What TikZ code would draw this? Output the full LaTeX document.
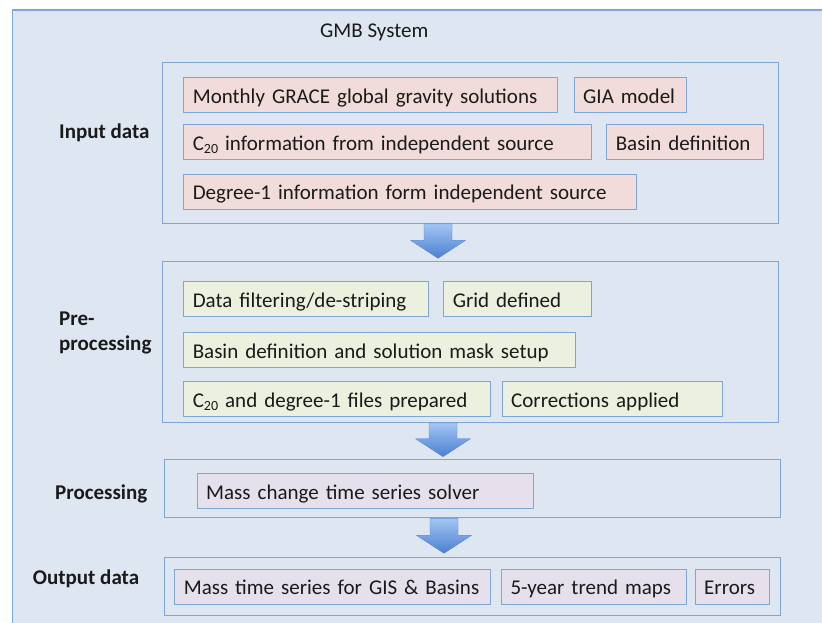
\documentclass[tikz,border=0pt]{standalone}
\usepackage{fontspec}
\setmainfont{Carlito}
\usetikzlibrary{calc}

\definecolor{panelfill}{HTML}{DDE6F1}
\definecolor{panelline}{HTML}{7FA6D8}
\definecolor{inputfill}{HTML}{F2DCDB}
\definecolor{prefill}{HTML}{EBF0DF}
\definecolor{procfill}{HTML}{E6E0EC}
\definecolor{arrowtop}{HTML}{A3C6F5}
\definecolor{arrowbot}{HTML}{4A7FCF}
\definecolor{arrowedge}{HTML}{5B8AD0}
\definecolor{ink}{HTML}{1A1A1A}

\tikzset{
  stage/.style={draw=panelline, line width=1.1pt, anchor=north west, inner sep=0pt},
  item/.style={draw=panelline, line width=1pt, anchor=north west, inner xsep=9pt, inner ysep=0pt,
               minimum height=35pt, text height=18pt, text depth=2pt,
               align=left, text=ink, font=\fontsize{21}{25}\selectfont},
  inbox/.style={item, fill=inputfill},
  prebox/.style={item, fill=prefill},
  procbox/.style={item, fill=procfill},
  stagelabel/.style={anchor=west, text=ink, font=\bfseries\fontsize{21}{25}\selectfont, align=left, inner sep=0pt},
}

% subscript set a little lower, as in C_20
\newcommand\lowsub[1]{\raisebox{-0.32ex}{\fontsize{14}{14}\selectfont #1}}

% block arrow from the bottom edge of one stage (#1) down to its tip (#2)
\newcommand\blockarrow[2]{%
  \path[top color=arrowtop, bottom color=arrowbot, draw=arrowedge, line width=0.4pt, line join=round]
    let \p1=(#1), \p2=(#2) in
    (\x1-14pt,\y1) -- (\x1+14pt,\y1) -- (\x1+14pt,\y2+18pt) -- (\x1+27.5pt,\y2+18pt)
    -- (\x2,\y2) -- (\x1-27.5pt,\y2+18pt) -- (\x1-14pt,\y2+18pt) -- cycle;}

% item box: name, left, top, width, style, text
\newcommand\itembox[6]{%
  \node[#5, text width=#4pt-18pt] (#1) at (#2,#3) {#6};}

\begin{document}
\begin{tikzpicture}[x=1pt, y=-1pt]
\useasboundingbox (0,0) rectangle (822,622);

% system panel
\fill[white] (0,0) rectangle (822,622);
\draw[fill=panelfill, draw=panelline, line width=1.2pt] (12.3,10) rectangle (840,640);
\node[anchor=west, text=ink, font=\fontsize{21}{25}\selectfont, inner sep=0pt] (title) at (320,32) {GMB System};

% stage frames
\node[stage, minimum width=615.4pt, minimum height=161pt] (input) at (162.3,61.7) {};
\node[stage, minimum width=615.4pt, minimum height=161pt] (pre) at (162.3,260.7) {};
\node[stage, minimum width=615.7pt, minimum height=58pt] (proc) at (164.3,459.3) {};
\node[stage, minimum width=615.7pt, minimum height=58.3pt] (out) at (164.3,556.7) {};

% stage labels
\node[stagelabel] (linput) at (59,133) {Input data};
\node[stagelabel] (lpre) at (59,332.5) {Pre-\\processing};
\node[stagelabel] (lproc) at (55,494) {Processing};
\node[stagelabel] (lout) at (32.7,578.3) {Output data};

% input data items
\itembox{grace}{183.3}{77.3}{374}{inbox}{Monthly GRACE global gravity solutions}
\itembox{gia}{573.7}{77.3}{112}{inbox}{GIA model}
\itembox{ctwenty}{183.3}{124}{407.4}{inbox}{C\lowsub{20} information from independent source}
\itembox{basin}{606.3}{124}{156.7}{inbox}{Basin definition}
\itembox{degone}{183.3}{173.5}{452.7}{inbox}{Degree-1 information form independent source}

% pre-processing items
\itembox{filter}{183.3}{281.3}{244.7}{prebox}{Data filtering/de-striping}
\itembox{grid}{443.3}{281.3}{147.4}{prebox}{Grid defined}
\itembox{mask}{183.3}{332.3}{391.4}{prebox}{Basin definition and solution mask setup}
\itembox{files}{183.3}{381}{306.7}{prebox}{C\lowsub{20} and degree-1 files prepared}
\itembox{corr}{501.7}{381}{220.6}{prebox}{Corrections applied}

% processing item
\itembox{solver}{196.7}{473.3}{336.6}{procbox}{Mass change time series solver}

% output items
\itembox{series}{174.3}{568.5}{315.7}{procbox}{Mass time series for GIS \& Basins}
\itembox{trend}{501}{568.5}{184.7}{procbox}{5-year trend maps}
\itembox{errors}{694.7}{568.5}{74.6}{procbox}{Errors}

% flow arrows between stages
\coordinate (a1s) at ($(input.south west) + (275.7,0)$);
\coordinate (a1e) at ($(pre.north west) + (275.7,-2.4)$);
\coordinate (a2s) at ($(pre.south west) + (280.7,0)$);
\coordinate (a2e) at ($(proc.north west) + (278.7,-2.6)$);
\coordinate (a3s) at ($(proc.south west) + (279.7,0)$);
\coordinate (a3e) at ($(out.north west) + (279.7,-3.4)$);
\blockarrow{a1s}{a1e}
\blockarrow{a2s}{a2e}
\blockarrow{a3s}{a3e}
\end{tikzpicture}
\end{document}
